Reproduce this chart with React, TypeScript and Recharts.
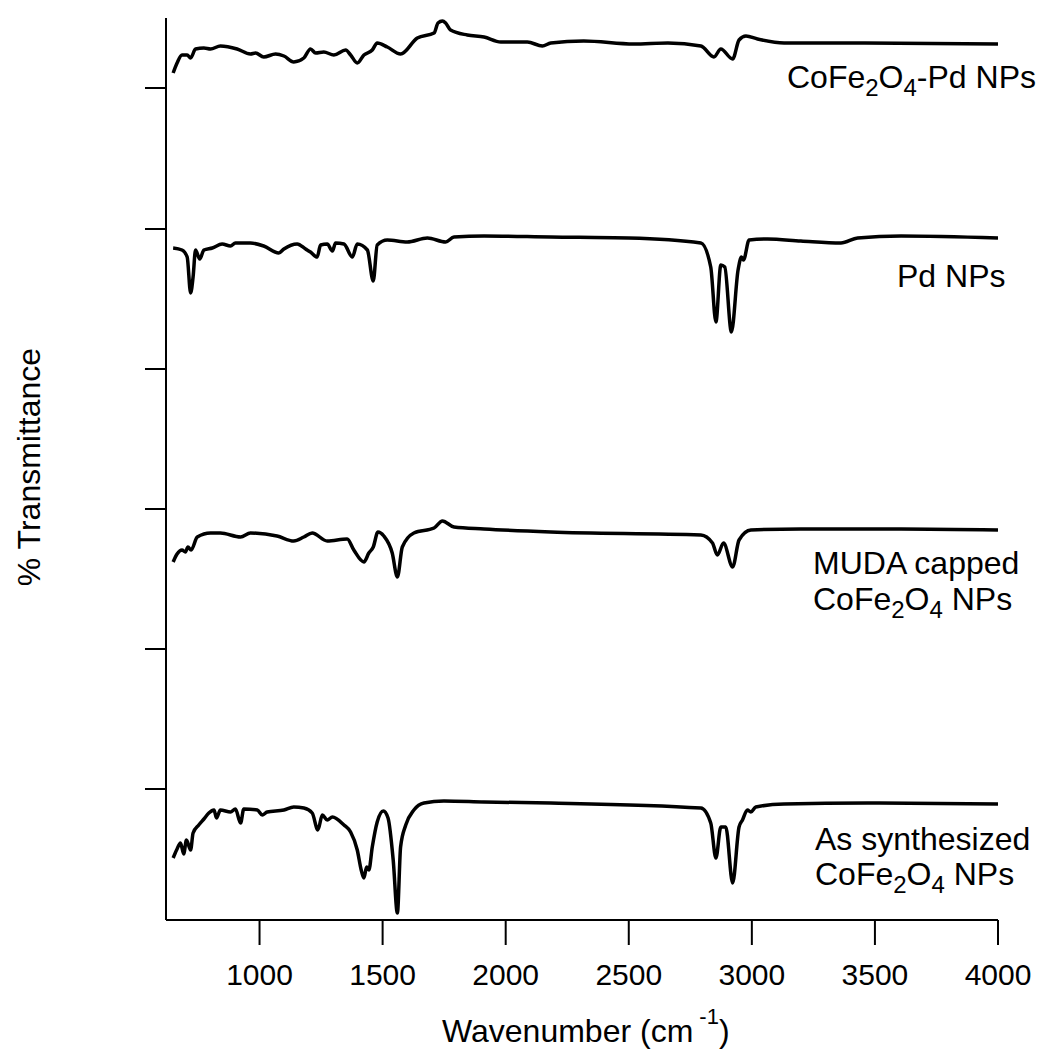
import React from 'react';
import { LineChart, Line, XAxis, YAxis } from 'recharts';

// wavenumber (cm-1) / transmittance (a.u., traces stacked with offsets)
const pdCfoWave = [649, 665, 685, 706, 720, 740, 774, 801, 841, 909, 963, 984, 1017, 1065, 1099, 1139, 1180, 1207, 1228, 1261, 1302, 1350, 1370, 1397, 1424, 1458, 1478, 1519, 1573, 1641, 1709, 1725, 1743, 1756, 1776, 1844, 1912, 1980, 2088, 2149, 2183, 2317, 2520, 2659, 2793, 2846, 2874, 2922, 2948, 2976, 3023, 3131, 3402, 4000];
const pdCfoT = [849, 859, 867, 867, 864, 873, 874, 873, 876, 873, 868, 869, 865, 868, 866, 860, 864, 873, 869, 870, 867, 872, 867, 859, 867, 872, 879, 875, 868, 884, 889, 899, 901, 899, 892, 887, 885, 880, 880, 876, 879, 881, 878, 879, 876, 865, 873, 863, 882, 886, 883, 879, 879, 878];

const pdWave = [649, 685, 706, 720, 730, 740, 757, 774, 808, 848, 882, 902, 963, 1017, 1078, 1099, 1153, 1187, 1207, 1234, 1248, 1275, 1296, 1309, 1343, 1377, 1397, 1438, 1462, 1478, 1519, 1600, 1682, 1756, 1790, 1912, 2183, 2500, 2793, 2833, 2854, 2874, 2890, 2917, 2944, 2958, 2966, 2989, 3064, 3199, 3362, 3430, 3606, 4000];
const pdT = [674, 672, 665, 629, 645, 672, 663, 672, 674, 678, 676, 679, 679, 676, 669, 673, 678, 673, 670, 665, 677, 678, 671, 679, 678, 665, 678, 672, 641, 677, 682, 680, 684, 680, 685, 686, 685, 684, 679, 655, 600, 657, 655, 590, 652, 665, 662, 682, 683, 681, 679, 684, 686, 684];

const mudaWave = [649, 665, 685, 699, 709, 722, 747, 801, 841, 923, 963, 1071, 1139, 1180, 1214, 1275, 1356, 1383, 1424, 1444, 1462, 1481, 1505, 1539, 1560, 1580, 1627, 1709, 1743, 1790, 1912, 2183, 2793, 2840, 2860, 2885, 2922, 2948, 2996, 3199, 3606, 4000];
const mudaT = [360, 368, 372, 370, 375, 372, 385, 389, 389, 385, 389, 386, 381, 385, 389, 381, 383, 372, 360, 369, 375, 390, 386, 369, 345, 375, 389, 394, 401, 395, 393, 390, 387, 379, 367, 379, 355, 382, 392, 393, 393, 392];

const asSynWave = [649, 663, 679, 692, 703, 720, 730, 753, 774, 794, 815, 825, 841, 882, 902, 923, 936, 991, 1011, 1031, 1099, 1139, 1180, 1214, 1237, 1255, 1275, 1296, 1343, 1370, 1397, 1413, 1424, 1435, 1444, 1458, 1478, 1503, 1522, 1543, 1560, 1573, 1594, 1627, 1668, 1749, 1912, 2183, 2793, 2833, 2854, 2874, 2894, 2922, 2948, 2962, 2982, 2996, 3016, 3131, 3470, 4000];
const asSynT = [64, 72, 79, 68, 82, 72, 89, 97, 103, 109, 112, 104, 112, 110, 113, 99, 113, 112, 107, 110, 112, 115, 114, 109, 92, 107, 102, 105, 97, 90, 72, 52, 44, 55, 52, 75, 100, 111, 104, 62, 9, 75, 97, 112, 119, 121, 120, 119, 114, 99, 64, 95, 95, 39, 95, 102, 112, 110, 115, 118, 119, 118];

const xTicks = [1000, 1500, 2000, 2500, 3000, 3500, 4000];
const yTicks = [133, 273, 413, 553, 693, 834];

const toRows = (w: number[], t: number[]) => w.map((x, i) => ({ w: x, t: t[i] }));

const series = [
  toRows(pdCfoWave, pdCfoT),
  toRows(pdWave, pdT),
  toRows(mudaWave, mudaT),
  toRows(asSynWave, asSynT),
];

const FONT = 'Liberation Sans, Arial, sans-serif';
const W = 1037;
const H = 1042;

function Formula({ x, y, parts }: { x: number; y: number; parts: string[] }) {
  // parts alternate: normal text, subscript, normal, subscript...
  return (
    <text x={x} y={y} fontSize={32} fontFamily={FONT} fill="#000">
      {parts.map((p, i) =>
        i % 2 === 1 ? (
          <tspan key={i} fontSize={24} dy={8}>{p}</tspan>
        ) : (
          <tspan key={i} dy={i === 0 ? 0 : -8}>{p}</tspan>
        )
      )}
    </text>
  );
}

// labels and axis titles, laid over the chart
function Annotations() {
  return (
    <svg
      width={W}
      height={H}
      style={{ position: 'absolute', left: 0, top: 0, pointerEvents: 'none' }}
    >
      <Formula x={779} y={80} parts={['CoFe', '2', 'O', '4', '-Pd NPs']} />
      <text x={889} y={279} fontSize={32} fontFamily={FONT} fill="#000">Pd NPs</text>
      <text x={805} y={566} fontSize={32} fontFamily={FONT} fill="#000">MUDA capped</text>
      <Formula x={805} y={602} parts={['CoFe', '2', 'O', '4', ' NPs']} />
      <text x={807} y={842} fontSize={32} fontFamily={FONT} fill="#000">As synthesized</text>
      <Formula x={807} y={877} parts={['CoFe', '2', 'O', '4', ' NPs']} />
      <text
        x={32}
        y={459}
        transform="rotate(-90 32 459)"
        textAnchor="middle"
        fontSize={32}
        fontFamily={FONT}
        fill="#000"
      >
        % Transmittance
      </text>
      <text x={434} y={1034} fontSize={32} fontFamily={FONT} fill="#000">
        Wavenumber (cm
        <tspan fontSize={22} dy={-18} dx={6}>-1</tspan>
        <tspan dy={18}>)</tspan>
      </text>
    </svg>
  );
}

export default function App() {
  return (
    <div style={{ position: 'relative', width: W, height: H }}>
      <LineChart width={W} height={H} margin={{ top: 10, right: 47, bottom: 30, left: 98 }}>
        <XAxis
          type="number"
          dataKey="w"
          domain={[620, 4000]}
          ticks={xTicks}
          height={100}
          stroke="#000"
          tickSize={25}
          tickMargin={19}
          axisLine={{ stroke: '#000', strokeWidth: 2 }}
          tickLine={{ stroke: '#000', strokeWidth: 2 }}
          tick={{ fill: '#000', fontSize: 30, fontFamily: FONT }}
        />
        <YAxis
          type="number"
          domain={[2, 904]}
          ticks={yTicks}
          width={60}
          stroke="#000"
          axisLine={{ stroke: '#000', strokeWidth: 2 }}
          tickLine={{ stroke: '#000', strokeWidth: 2 }}
          tickSize={21}
          tickFormatter={() => ''}
        />
        {series.map((d, i) => (
          <Line
            key={i}
            data={d}
            dataKey="t"
            type="monotoneX"
            stroke="#000"
            strokeWidth={3.5}
            strokeLinejoin="round"
            dot={false}
            activeDot={false}
            isAnimationActive={false}
          />
        ))}
      </LineChart>
      <Annotations />
    </div>
  );
}
